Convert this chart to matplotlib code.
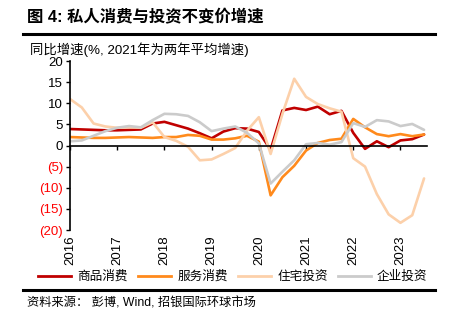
import matplotlib
matplotlib.use("Agg")
import matplotlib.pyplot as plt
from matplotlib.lines import Line2D

plt.rcParams['font.family'] = ['Liberation Sans', 'Noto Sans CJK SC', 'DejaVu Sans']

# Quarterly data, 2016Q1 .. 2023Q3
quarters = list(range(31))
year_labels = ['2016', '2017', '2018', '2019', '2020', '2021', '2022', '2023']
year_ticks = [0, 4, 8, 12, 16, 20, 24, 28]

goods = [3.9, 3.8, 3.7, 3.6, 3.6, 3.7, 3.8, 5.2, 5.6, 4.8, 4.0, 2.9, 1.7, 3.3, 4.1, 4.0,
         3.2, -1.0, 8.3, 8.9, 8.4, 9.2, 7.4, 8.2, 3.0, -0.8, 1.0, -0.4, 1.2, 1.5, 2.6]
services = [2.0, 1.9, 1.8, 1.8, 1.9, 2.0, 1.9, 1.8, 2.0, 2.0, 2.5, 2.3, 1.4, 1.4, 1.7, 2.3,
            0.9, -11.8, -7.5, -4.8, -1.2, 0.6, 1.3, 1.6, 6.3, 4.3, 2.7, 2.2, 2.7, 2.2, 2.6]
housing = [11.0, 9.0, 5.2, 4.5, 4.2, 4.3, 4.2, 5.5, 2.0, 1.1, -0.3, -3.5, -3.3, -2.0, -0.6, 3.5,
           6.7, -2.0, 7.5, 15.8, 11.5, 9.8, 8.8, 8.0, -3.0, -5.0, -11.5, -16.3, -18.3, -16.5, -7.8]
business = [1.0, 1.2, 2.3, 3.4, 4.2, 4.6, 4.3, 6.0, 7.5, 7.4, 7.0, 5.5, 3.4, 4.0, 4.5, 3.0,
            0.5, -9.0, -6.2, -3.5, 0.3, 0.6, 0.2, 0.8, 5.3, 4.4, 6.0, 5.7, 4.6, 5.1, 3.7]

series_names = ['商品消费', '服务消费', '住宅投资', '企业投资']
colors = ['#C00000', '#FF8A1C', '#FCD0AA', '#CBCBCB']

y_ticks = [20, 15, 10, 5, 0, -5, -10, -15, -20]

fig = plt.figure(figsize=(4.49, 3.22), dpi=100)
ax = fig.add_axes([70/449, 1-230/322, (427-70)/449, (230-61)/322])

for vals, c in zip([goods, services, housing, business], colors):
    ax.plot(quarters, vals, color=c, lw=1.9, solid_joinstyle='round', solid_capstyle='round')

ax.set_xlim(0, 30.25)
ax.set_ylim(-20, 20)

for s in ['top', 'right']:
    ax.spines[s].set_visible(False)
ax.spines['bottom'].set_position(('data', 0))
ax.spines['bottom'].set_linewidth(1.2)
ax.spines['left'].set_linewidth(1.2)

ax.set_xticks(year_ticks)
ax.tick_params(axis='x', direction='out', length=3, width=1, labelbottom=False)
ax.set_yticks(y_ticks)
ax.set_yticklabels([str(v) if v >= 0 else '(%d)' % abs(v) for v in y_ticks])
ax.tick_params(axis='y', direction='out', length=3, width=1, labelsize=9.5, pad=2)
for lbl, v in zip(ax.get_yticklabels(), y_ticks):
    lbl.set_color('black' if v >= 0 else '#FF0000')

sec = ax.secondary_xaxis('bottom')
sec.set_xticks(year_ticks)
sec.set_xticklabels(year_labels, rotation=90, fontsize=9.5)
sec.tick_params(length=0, pad=4)
sec.spines['bottom'].set_visible(False)

# title, rules, subtitle, source
fig.text(27/449, 1-17/322, '图 4: 私人消费与投资不变价增速', fontsize=11.8, fontweight='bold',
         va='center', ha='left')
fig.add_artist(Line2D([23/449, 435/449], [1-34/322, 1-34/322], color='black', lw=2.2))
fig.text(30/449, 1-50/322, '同比增速(%, 2021年为两年平均增速)', fontsize=9.6,
         va='center', ha='left')
fig.add_artist(Line2D([23/449, 435/449], [1-290/322, 1-290/322], color='black', lw=2.2))
fig.text(27/449, 1-303/322, '资料来源： 彭博, Wind, 招银国际环球市场', fontsize=8.8,
         va='center', ha='left')

handles = [Line2D([0], [0], color=c, lw=2) for c in colors]
fig.legend(handles, series_names, loc='center', bbox_to_anchor=(233/449, 1-277/322),
           ncol=4, frameon=False, fontsize=9.1, handlelength=2.6, handletextpad=0.5,
           columnspacing=0.8)

fig.savefig('out.png', dpi=100)
